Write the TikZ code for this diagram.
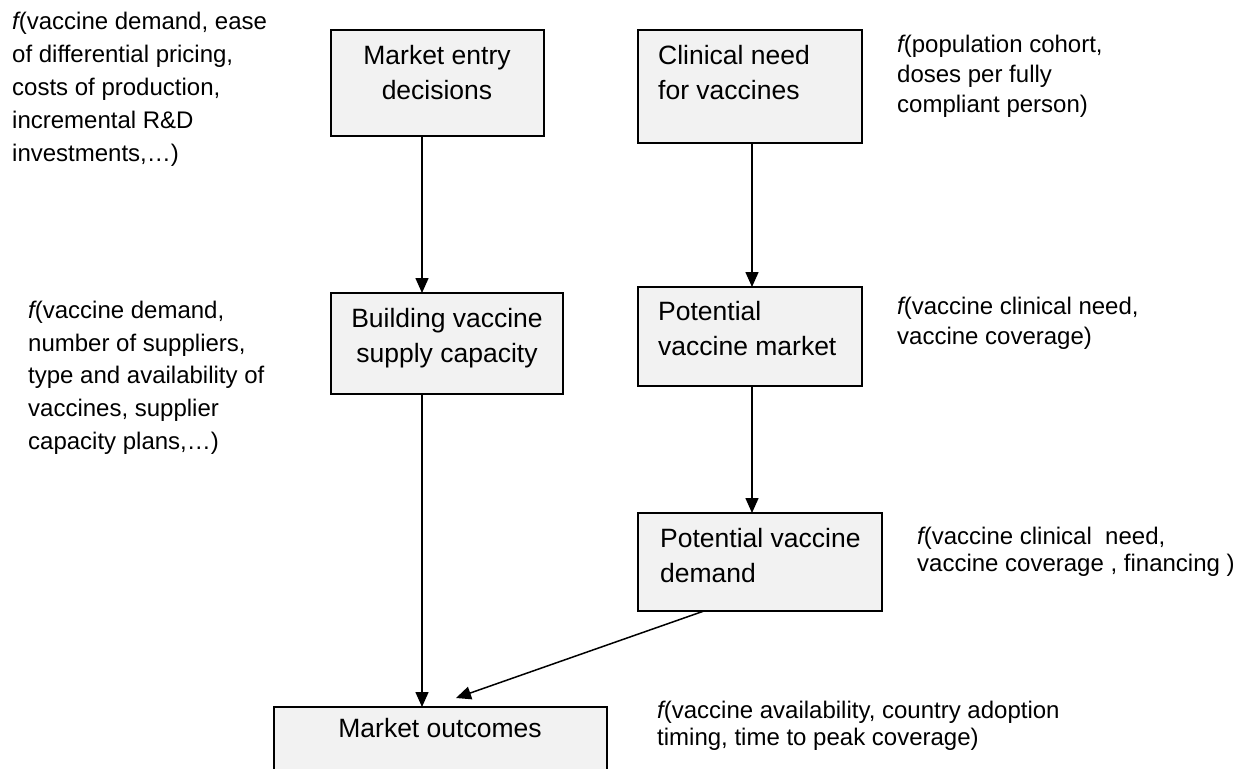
\documentclass[tikz,border=0pt]{standalone}
\usepackage{fontspec}
\setmainfont{Liberation Sans}
\usetikzlibrary{arrows.meta}
\definecolor{boxfill}{RGB}{242,242,242}
% italic function letter, set tight against the parenthesis
\newcommand{\fn}{{\itshape f}}

\begin{document}
\begin{tikzpicture}[x=1pt,y=-1pt,
  box/.style={draw=black, line width=1.6pt, fill=boxfill, anchor=north west,
              inner sep=0pt, outer sep=0pt},
  boxtext/.style={font=\fontsize{26.5}{35}\selectfont, inner sep=0pt},
  note/.style={font=\fontsize{24}{33}\selectfont, inner sep=0pt,
               anchor=north west, align=left},
  arr/.style={line width=1.5pt, -{Triangle[length=15pt,width=13pt]}}]
\useasboundingbox (0,0) rectangle (1254,769);
\clip (0,0) rectangle (1254,769);

% boxes
\node[box, minimum width=213pt, minimum height=106pt] (me) at (331,30) {};
\node[box, minimum width=224pt, minimum height=113pt] (cn) at (638,30) {};
\node[box, minimum width=232pt, minimum height=101pt] (bv) at (331,293) {};
\node[box, minimum width=224pt, minimum height=99pt]  (pm) at (638,287) {};
\node[box, minimum width=244pt, minimum height=98pt]  (pd) at (638,513) {};
\node[box, minimum width=333pt, minimum height=100pt] (mo) at (274,707) {};

% box labels
\node[boxtext, anchor=north, align=center] (me-t) at (437,45) {Market entry\\decisions};
\node[boxtext, anchor=north west, align=left] (cn-t) at (658,45) {Clinical need\\for vaccines};
\node[boxtext, anchor=north, align=center] (bv-t) at (447,308) {Building vaccine\\supply capacity};
\node[boxtext, anchor=north west, align=left] (pm-t) at (658,301) {Potential\\vaccine market};
\node[boxtext, anchor=north west, align=left] (pd-t) at (660,528) {Potential vaccine\\demand};
\node[boxtext, anchor=north, align=center] (mo-t) at (440,718) {Market outcomes};

% side notes
\node[note] (me-n) at (12,12) {\fn(vaccine demand, ease\\of differential pricing,\\costs of production,\\incremental R\&D\\investments,…)};
\node[note, font=\fontsize{24}{30}\selectfont] (cn-n) at (897,35) {\fn(population cohort,\\doses per fully\\compliant person)};
\node[note, font=\fontsize{24}{32.7}\selectfont] (bv-n) at (28,301) {\fn(vaccine demand,\\number of suppliers,\\type and availability of\\vaccines, supplier\\capacity plans,…)};
\node[note, font=\fontsize{24}{30}\selectfont] (pm-n) at (897,297) {\fn(vaccine clinical need,\\vaccine coverage)};
\node[note, font=\fontsize{24}{27}\selectfont] (pd-n) at (917,527) {\fn(vaccine clinical\ \ need,\\vaccine coverage , financing )};
\node[note, font=\fontsize{24}{26.5}\selectfont] (mo-n) at (657,701) {\fn(vaccine availability, country adoption\\timing, time to peak coverage)};

% connectors
\draw[arr] ([xshift=-15.5pt]me.south) -- ([xshift=-15.5pt]me.south |- bv.north);
\draw[arr] ([xshift=2pt]cn.south) -- ([xshift=2pt]cn.south |- pm.north);
\draw[arr] ([xshift=2pt]pm.south) -- ([xshift=2pt]pm.south |- pd.north);
\draw[arr] ([xshift=-25pt]bv.south) -- ([xshift=-25pt]bv.south |- mo.north);
\draw[arr] ([xshift=-56pt]pd.south) -- ([xshift=15.5pt,yshift=9pt]mo.north);
\end{tikzpicture}
\end{document}
